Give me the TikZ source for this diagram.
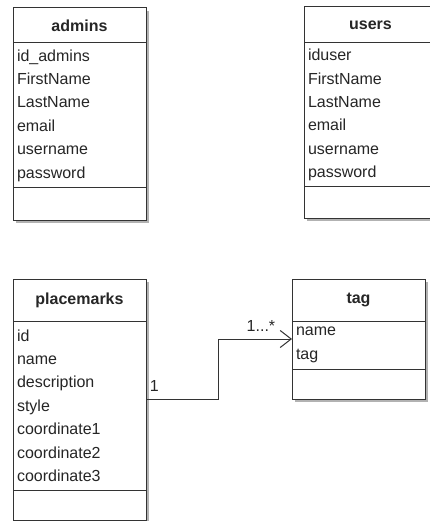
\documentclass[tikz,border=0pt]{standalone}
\usepackage{fontspec}
\setmainfont{Liberation Sans}
\usetikzlibrary{positioning,shadows,arrows.meta}

\begin{document}
\begin{tikzpicture}[
        x=1pt, y=-1pt,
        every node/.style={font=\fontsize{16pt}{23.4pt}\selectfont, text=black!85},
        box/.style={draw=black!80, line width=1pt, fill=white, outer sep=0pt, minimum width=133pt,
            drop shadow={shadow xshift=3pt, shadow yshift=-3pt, fill=black!30, opacity=1}},
        headn/.style={box, font=\fontsize{16pt}{19pt}\selectfont\bfseries},
        attrn/.style={box, text width=125pt, inner xsep=4pt, inner ysep=0pt, align=left},
        opsn/.style={box},
        assoc/.style={draw=black!80, line width=1pt, -{Straight Barb[length=11pt,width=17pt]}},
    ]
    \useasboundingbox (0,0) rectangle (429,521);

    % admins
    \node[headn, minimum height=35pt, anchor=north west](admHead) at (13,8) {admins};
    \node[attrn, minimum height=145pt, below=0pt of admHead](admAttr)
        {id\_admins\\FirstName\\LastName\\email\\username\\password};
    \node[opsn, minimum height=32pt, below=0pt of admAttr](admOps) {};

    % users
    \node[headn, minimum height=36pt, anchor=north west](usrHead) at (304,7) {users};
    \node[attrn, minimum height=144pt, below=0pt of usrHead](usrAttr)
        {iduser\\FirstName\\LastName\\email\\username\\password};
    \node[opsn, minimum height=31pt, below=0pt of usrAttr](usrOps) {};

    % placemarks
    \node[headn, minimum height=42pt, anchor=north west](plHead) at (13,279) {placemarks};
    \node[attrn, minimum height=169pt, below=0pt of plHead](plAttr)
        {id\\name\\description\\style\\coordinate1\\coordinate2\\coordinate3};
    \node[opsn, minimum height=30pt, below=0pt of plAttr](plOps) {};

    % tag
    \node[headn, minimum height=42pt, anchor=north west](tagHead) at (292,279) {tag};
    \node[attrn, minimum height=48pt, below=0pt of tagHead](tagAttr) {name\\tag};
    \node[opsn, minimum height=30pt, below=0pt of tagAttr](tagOps) {};

    \draw[assoc] ([yshift=6.5pt]plAttr.east) node[above right, yshift=4pt]{1}
        -- ++(72,0) |- ([yshift=6pt]tagAttr.west) node[above left, xshift=-13pt, yshift=4pt]{1...*};
\end{tikzpicture}
\end{document}
